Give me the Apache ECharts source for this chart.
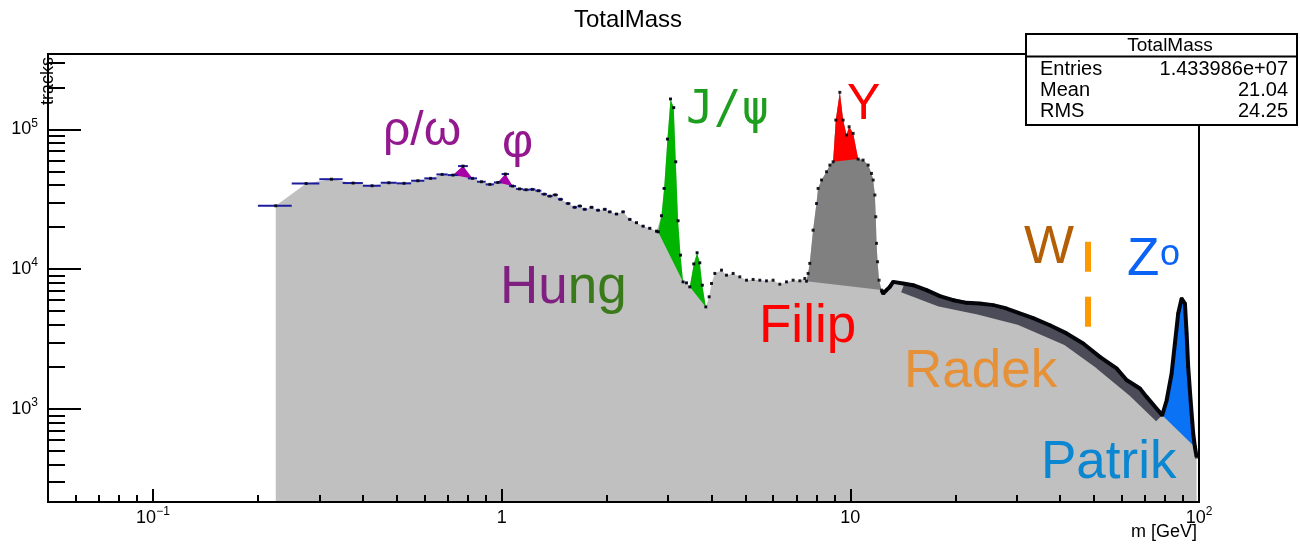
<!DOCTYPE html>
<html><head><meta charset="utf-8">
<script src="https://cdn.jsdelivr.net/npm/echarts@6/dist/echarts.min.js"></script>
<style>html,body{margin:0;padding:0;background:#fff}#c{width:1300px;height:544px}</style>
</head><body><div id="c"></div>
<script>
// ---- data (mass in GeV, entries per bin) ----
const massGeV = [
  0.225,0.275,0.325,0.375,0.425,0.475,0.525,0.575,0.625,0.675,0.725,0.775,0.825,0.875,0.925,0.975,1.025,1.075,1.125,1.175,1.225,1.275,1.325,1.375,1.425,1.475,
  1.551,1.620,1.675,1.731,1.810,1.890,1.976,2.042,2.135,2.230,2.331,2.436,2.545,2.660,2.781,
  2.810,2.873,2.924,2.989,3.050,3.116,3.158,3.206,3.258,3.314,3.389,3.464,3.557,3.635,3.701,3.763,3.851,
  3.936,3.998,4.087,4.271,4.414,4.612,4.819,5.038,5.263,5.501,5.748,6.005,6.277,6.561,6.854,7.164,7.404,
  7.486,7.565,7.650,7.819,7.997,8.082,8.266,8.546,8.735,8.927,9.086,9.330,9.537,9.752,9.922,10.19,10.53,10.88,11.25,11.50,11.63,11.76,11.83,11.89,11.97,12.09,12.29,
  12.42,12.70,12.98,13.27,14.17,15.14,16.55,18.06,19.72,21.54,23.52,25.68,28.06,30.64,33.45,37.35,41.71,46.54,51.96,58.01,61.98,67.69,70.75,
  78.43,80.75,83.45,85.29,87.17,89.16,91.13,92.15,93.11,94.61,96.25,97.33,98.42
];
const tracks = [
  28400,41000,44000,41300,39500,41500,41100,42900,44600,47600,47100,54600,44600,42200,40400,41700,47900,39300,37500,37000,37200,36400,34400,33300,34000,31600,
  29500,27700,28300,26800,27700,26400,26800,25700,24800,25700,22700,21500,20300,19600,18700,
  18500,24100,37800,85200,165000,143000,58600,22200,12600,8110,7980,7470,10900,13100,11100,7680,5370,
  6340,7900,9320,9840,9060,9320,8810,8340,8440,8340,8250,8340,7810,8110,8340,8250,8580,
  8210,9320,11000,19000,29500,37800,43400,49700,55500,58600,116600,184000,116600,91000,104400,93600,61300,60300,55500,48400,43400,33900,23700,15300,11300,8340,7080,
  6700,7080,7470,8110,7900,7680,7080,6410,6000,5740,5680,5530,5230,4820,4460,3970,3470,2940,2360,1950,1610,1400,1220,
  901,1150,1790,2940,4820,6170,5680,3470,2000,1150,667,535,453
];
// centre of the dense scatter just below the curve at high mass
const spreadMassGeV = [14.17,18.06,23.52,30.64,41.71,51.96,64.77,77.26];
const spreadTracks  = [7450,5900,5150,4350,3120,2100,1330,870];
// mass windows of the highlighted resonances
const rhoOmegaRange = [0.72, 0.83];
const phiRange = [0.97, 1.08];
const jpsiRange = [2.80, 3.32];
const psi2sRange = [3.46, 3.86];
const upsilonBumpRange = [7.48, 12.3];
const upsilonPeakRange = [8.92, 10.54];
const z0Range = [78.4, 97.4];
const denseRange = [12.2, 100];
const errorBarRange = [0, 12];
const binHalfWidth = 0.025;
// W marker
const wMarkMass = 48.1;
const wMarkTracks = [15700, 3760];
// axes
const xMin = 0.05, xMax = 100, yMin = 216, yMax = 346000;
const xLabelTicks = [0.1, 1, 10, 100];
const xMinorTicks = [0.06,0.07,0.08,0.09,0.2,0.3,0.4,0.5,0.6,0.7,0.8,0.9,2,3,4,5,6,7,8,9,20,30,40,50,60,70,80,90];
const yLabelTicks = [1000, 10000, 100000];
const yMinorTicks = [300,400,500,600,700,800,900,2000,3000,4000,5000,6000,7000,8000,9000,20000,30000,40000,50000,60000,70000,80000,90000,200000,300000];
// stats box
const statNames = ['Entries', 'Mean', 'RMS'];
const statValues = ['1.433986e+07', '21.04', '24.25'];

// ---- build ----
const spectrum = massGeV.map((m, i) => [m, tracks[i]]);
const inRange = r => spectrum.filter(p => p[0] >= r[0] && p[0] <= r[1]);
const spread = spreadMassGeV.map((m, i) => [m, spreadTracks[i]]);

const FONT = '"Liberation Sans", Arial, sans-serif';

function polygonSeries(name, pts, color, z) {
  return {
    type: 'custom', name, z, silent: true, data: pts,
    renderItem(params, api) {
      if (params.dataIndex !== 0) return null;
      return { type: 'polygon', shape: { points: pts.map(p => api.coord(p)) }, style: { fill: color } };
    }
  };
}

function supLabel(v) {
  const e = Math.round(Math.log10(v));
  if (e === 0) return '{b|1}';
  if (e === 1) return '{b|10}';
  return '{b|10}{s|' + (e < 0 ? '\u2212' + (-e) : e) + '}';
}
const labelRich = {
  b: { fontSize: 18, fontFamily: FONT, color: '#000', lineHeight: 24 },
  s: { fontSize: 12, fontFamily: FONT, color: '#000', lineHeight: 12, verticalAlign: 'top' }
};

const chart = echarts.init(document.getElementById('c'), null, { renderer: 'canvas' });
chart.setOption({
  animation: false,
  backgroundColor: '#fff',
  title: {
    text: 'TotalMass', left: 623, top: 3, textAlign: 'center',
    textStyle: { fontFamily: FONT, fontSize: 24, fontWeight: 'normal', color: '#000' }
  },
  grid: { left: 48, top: 54, right: 101, bottom: 42, show: true, borderColor: '#000', borderWidth: 2, backgroundColor: 'transparent', z: 10 },
  xAxis: [
    {
      type: 'log', logBase: 10, min: xMin, max: xMax, z: 10,
      axisLine: { show: true, lineStyle: { color: '#000', width: 2 } },
      axisTick: { show: true, inside: true, length: 13, lineStyle: { color: '#000', width: 2 }, customValues: xLabelTicks },
      axisLabel: { show: true, margin: 4, customValues: xLabelTicks, formatter: supLabel, rich: labelRich },
      splitLine: { show: false }, minorTick: { show: false }
    },
    {
      type: 'log', logBase: 10, min: xMin, max: xMax, position: 'bottom', z: 10,
      axisLine: { show: false },
      axisTick: { show: true, inside: true, length: 7, lineStyle: { color: '#000', width: 2 }, customValues: xMinorTicks },
      axisLabel: { show: false }, splitLine: { show: false }
    }
  ],
  yAxis: [
    {
      type: 'log', logBase: 10, min: yMin, max: yMax, z: 10,
      name: 'tracks', nameLocation: 'end', nameGap: -3, nameRotate: 90,
      nameTextStyle: { fontFamily: FONT, fontSize: 18, color: '#000', align: 'right', verticalAlign: 'middle' },
      axisLine: { show: true, lineStyle: { color: '#000', width: 2 } },
      axisTick: { show: true, inside: true, length: 33, lineStyle: { color: '#000', width: 2 }, customValues: yLabelTicks },
      axisLabel: { show: true, margin: 10, customValues: yLabelTicks, formatter: supLabel, rich: labelRich },
      splitLine: { show: false }, minorTick: { show: false }
    },
    {
      type: 'log', logBase: 10, min: yMin, max: yMax, position: 'left', z: 10,
      axisLine: { show: false },
      axisTick: { show: true, inside: true, length: 17, lineStyle: { color: '#000', width: 2 }, customValues: yMinorTicks },
      axisLabel: { show: false }, splitLine: { show: false }
    }
  ],
  series: [
    {
      type: 'line', name: 'TotalMass', data: spectrum, z: 1, silent: true,
      showSymbol: false, lineStyle: { opacity: 0, width: 0 },
      areaStyle: { color: '#c0c0c0', opacity: 1, origin: 'start' },
      markLine: {
        silent: true, symbol: ['none', 'none'], label: { show: false },
        lineStyle: { color: '#ff9900', width: 6, type: [30, 25], cap: 'butt' },
        data: [[{ coord: [wMarkMass, wMarkTracks[0]] }, { coord: [wMarkMass, wMarkTracks[1]] }]]
      }
    },
    polygonSeries('Υ bump', inRange(upsilonBumpRange), '#808080', 2),
    polygonSeries('Υ', inRange(upsilonPeakRange), '#ff0000', 3),
    polygonSeries('J/ψ', inRange(jpsiRange), '#00b400', 3),
    polygonSeries('ψ(2S)', inRange(psi2sRange), '#00b400', 3),
    polygonSeries('ρ/ω', inRange(rhoOmegaRange), '#a600a6', 3),
    polygonSeries('φ', inRange(phiRange), '#a600a6', 3),
    polygonSeries('Z0', inRange(z0Range), '#0a72f5', 3),
    {
      type: 'line', name: 'spread', data: spread, z: 4, silent: true, showSymbol: false,
      lineStyle: { color: '#262636', width: 11, opacity: 0.75 }
    },
    {
      type: 'line', name: 'dense', data: inRange(denseRange), z: 5, silent: true, showSymbol: false,
      lineStyle: { color: '#05050c', width: 4 }
    },
    {
      type: 'custom', name: 'binwidth', z: 6, silent: true, data: inRange(errorBarRange),
      renderItem(params, api) {
        const m = api.value(0), n = api.value(1);
        const a = api.coord([m - binHalfWidth, n]), b = api.coord([m + binHalfWidth, n]);
        return { type: 'line', shape: { x1: a[0], y1: a[1], x2: b[0], y2: b[1] }, style: { stroke: '#1c1c9c', lineWidth: 2 } };
      }
    },
    {
      type: 'scatter', name: 'points', data: spectrum, z: 7, silent: true,
      symbol: 'rect', symbolSize: 3, itemStyle: { color: '#000' }
    }
  ],
  graphic: [
    { type: 'text', x: 383, y: 132, z: 50, style: { text: 'ρ/ω', fill: '#93188f', font: '48px ' + FONT, align: 'left', verticalAlign: 'middle' } },
    { type: 'text', x: 502, y: 144, z: 50, style: { text: 'φ', fill: '#93188f', font: '48px ' + FONT, align: 'left', verticalAlign: 'middle' } },
    { type: 'text', x: 686, y: 111, z: 50, style: { text: 'J/ψ', fill: '#1e9e1e', font: '46px "DejaVu Sans Mono", monospace', align: 'left', verticalAlign: 'middle' } },
    { type: 'text', x: 847, y: 105, z: 50, style: { text: 'Υ', fill: '#ff0000', font: '50px ' + FONT, align: 'left', verticalAlign: 'middle' } },
    { type: 'text', x: 1024, y: 248, z: 50, style: { text: 'W', fill: '#b45f06', font: '53px ' + FONT, align: 'left', verticalAlign: 'middle' } },
    { type: 'text', x: 1127, y: 260, z: 50, style: { text: 'Z', fill: '#0b63f6', font: '53px ' + FONT, align: 'left', verticalAlign: 'middle' } },
    { type: 'text', x: 1160, y: 255, z: 50, style: { text: 'o', fill: '#0b63f6', font: '36px ' + FONT, align: 'left', verticalAlign: 'middle' } },
    { type: 'text', x: 500, y: 288, z: 50, style: { text: '{a|Hu}{b|ng}', font: '53px ' + FONT, align: 'left', verticalAlign: 'middle',
        rich: { a: { fill: '#7f1f7f', fontSize: 53, fontFamily: FONT }, b: { fill: '#3a7a1a', fontSize: 53, fontFamily: FONT } } } },
    { type: 'text', x: 759, y: 327, z: 50, style: { text: 'Filip', fill: '#ff0000', font: '53px ' + FONT, align: 'left', verticalAlign: 'middle' } },
    { type: 'text', x: 904, y: 372, z: 50, style: { text: 'Radek', fill: '#e69138', font: '53px ' + FONT, align: 'left', verticalAlign: 'middle' } },
    { type: 'text', x: 1041, y: 463, z: 50, style: { text: 'Patrik', fill: '#0b86d0', font: '53px ' + FONT, align: 'left', verticalAlign: 'middle' } },
    // x axis title
    { type: 'text', x: 1197, y: 532, z: 50, style: { text: 'm [GeV]', fill: '#000', font: '18px ' + FONT, align: 'right', verticalAlign: 'middle' } },
    // stats box
    { type: 'rect', z: 100, shape: { x: 1026, y: 34, width: 271, height: 91 }, style: { fill: '#fff', stroke: '#000', lineWidth: 2 } },
    { type: 'line', z: 101, shape: { x1: 1026, y1: 56.5, x2: 1297, y2: 56.5 }, style: { stroke: '#000', lineWidth: 2 } },
    { type: 'text', z: 102, x: 1170, y: 46, style: { text: 'TotalMass', fill: '#000', font: '19px ' + FONT, align: 'center', verticalAlign: 'middle' } },
    ...statNames.map((s, i) => ({ type: 'text', z: 102, x: 1040, y: 69 + i * 21, style: { text: s, fill: '#000', font: '20px ' + FONT, align: 'left', verticalAlign: 'middle' } })),
    ...statValues.map((s, i) => ({ type: 'text', z: 102, x: 1288, y: 69 + i * 21, style: { text: s, fill: '#000', font: '20px ' + FONT, align: 'right', verticalAlign: 'middle' } }))
  ]
});
</script></body></html>
